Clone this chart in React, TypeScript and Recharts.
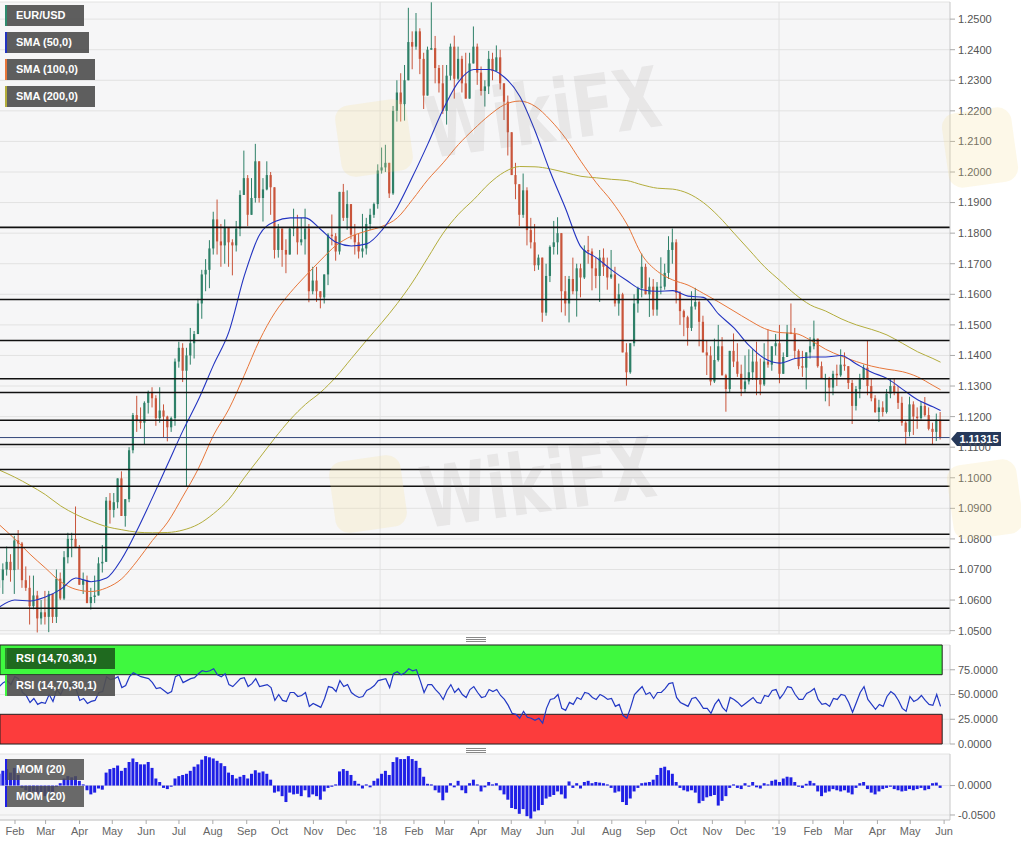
import React from 'react';
import {
  ComposedChart, Bar, Line, XAxis, YAxis, CartesianGrid, ReferenceLine, ReferenceArea,
} from 'recharts';

// ---------- DATA (half-week candles, first week starts Mon 2017-01-16) ----------
const FIRST_MONDAY = -16; // days relative to 2017-02-01
const firstOpen = 1.064;

const highs = [
  1.0680,1.0720, 1.0775,1.0750, 1.0810,1.0829, 1.0790,1.0710, 1.0680,1.0680, 1.0630,1.0600, 1.0630,1.0630, 1.0620,1.0700,
  1.0690,1.0760, 1.0820,1.0820, 1.0906,1.0780, 1.0690,1.0680, 1.0640,1.0680, 1.0740,1.0780, 1.0937,1.0950, 1.0950,1.0998,
  1.1021,1.0900, 1.1100,1.1212, 1.1268,1.1230, 1.1250,1.1285, 1.1296,1.1270, 1.1296,1.1240, 1.1203,1.1200, 1.1390,1.1445,
  1.1440,1.1425, 1.1490,1.1480, 1.1585,1.1680, 1.1715,1.1777, 1.1870,1.1910, 1.1830,1.1845, 1.1810,1.1780, 1.1840,1.1940,
  1.2070,1.1990, 1.1980,1.2092, 1.2000,1.1980, 1.2035,1.2000, 1.1950,1.1830, 1.1800,1.1780, 1.1820,1.1880, 1.1860,1.1850,
  1.1880,1.1830, 1.1690,1.1690, 1.1610,1.1665, 1.1800,1.1861, 1.1800,1.1935, 1.1961,1.1940, 1.1880,1.1830, 1.1800,1.1863,
  1.1850,1.1880, 1.1900,1.2025, 1.2080,1.2089, 1.2030,1.2216, 1.2300,1.2323, 1.2350,1.2537, 1.2460,1.2520, 1.2470,1.2390,
  1.2410,1.2555, 1.2445,1.2350, 1.2350,1.2350, 1.2420,1.2446, 1.2410,1.2380, 1.2390,1.2390, 1.2476,1.2420, 1.2345,1.2300,
  1.2396,1.2390, 1.2414,1.2400, 1.2290,1.2250, 1.2125,1.2030, 1.1950,1.1995, 1.1950,1.1850, 1.1830,1.1730, 1.1720,1.1700,
  1.1760,1.1840, 1.1852,1.1800, 1.1660,1.1660, 1.1720,1.1700, 1.1700,1.1760, 1.1791,1.1750, 1.1720,1.1745, 1.1750,1.1720,
  1.1745,1.1690, 1.1635,1.1605, 1.1440,1.1440, 1.1600,1.1625, 1.1733,1.1700, 1.1655,1.1650, 1.1640,1.1721, 1.1700,1.1790,
  1.1815,1.1780, 1.1610,1.1550, 1.1530,1.1610, 1.1621,1.1580, 1.1530,1.1450, 1.1430,1.1455, 1.1500,1.1460, 1.1340,1.1400,
  1.1472,1.1440, 1.1370,1.1400, 1.1420,1.1420, 1.1445,1.1390, 1.1440,1.1486, 1.1420,1.1470, 1.1500,1.1410, 1.1500,1.1570,
  1.1490,1.1420, 1.1415,1.1410, 1.1460,1.1514, 1.1450,1.1380, 1.1340,1.1330, 1.1350,1.1370, 1.1420,1.1410, 1.1355,1.1320,
  1.1300,1.1340, 1.1370,1.1448, 1.1325,1.1270, 1.1255,1.1250, 1.1290,1.1324, 1.1325,1.1300, 1.1265,1.1185, 1.1265,1.1250,
  1.1230,1.1250, 1.1264,1.1230, 1.1180,1.1210, 1.1215,
];

const lows = [
  1.0585,1.0620, 1.0680,1.0660, 1.0620,1.0700, 1.0640,1.0630, 1.0520,1.0570, 1.0494,1.0520, 1.0520,1.0495, 1.0525,1.0525,
  1.0600,1.0600, 1.0720,1.0740, 1.0770,1.0650, 1.0620,1.0590, 1.0569,1.0590, 1.0640,1.0690, 1.0822,1.0850, 1.0870,1.0900,
  1.0880,1.0840, 1.0920,1.1080, 1.1150,1.1160, 1.1110,1.1210, 1.1230,1.1170, 1.1180,1.1130, 1.1119,1.1150, 1.1170,1.1360,
  1.1313,1.0970, 1.1370,1.1390, 1.1470,1.1520, 1.1610,1.1620, 1.1730,1.1730, 1.1690,1.1700, 1.1690,1.1662, 1.1740,1.1790,
  1.1930,1.1823, 1.1860,1.1900, 1.1900,1.1838, 1.1940,1.1860, 1.1717,1.1720, 1.1690,1.1669, 1.1730,1.1790, 1.1730,1.1760,
  1.1730,1.1574, 1.1600,1.1575, 1.1554,1.1570, 1.1630,1.1760, 1.1710,1.1730, 1.1840,1.1811, 1.1780,1.1730, 1.1717,1.1720,
  1.1730,1.1810, 1.1850,1.1880, 1.1995,1.2000, 1.1915,1.1925, 1.2165,1.2165, 1.2168,1.2300, 1.2336,1.2400, 1.2320,1.2206,
  1.2260,1.2400, 1.2290,1.2260, 1.2190,1.2155, 1.2300,1.2240, 1.2300,1.2260, 1.2240,1.2240, 1.2360,1.2285, 1.2250,1.2214,
  1.2255,1.2300, 1.2330,1.2270, 1.2170,1.2054, 1.1990,1.1911, 1.1823,1.1850, 1.1760,1.1750, 1.1676,1.1680, 1.1510,1.1530,
  1.1640,1.1730, 1.1730,1.1541, 1.1530,1.1508, 1.1600,1.1527, 1.1590,1.1650, 1.1700,1.1613, 1.1620,1.1575, 1.1660,1.1615,
  1.1650,1.1560, 1.1530,1.1410, 1.1301,1.1340, 1.1430,1.1540, 1.1590,1.1600, 1.1526,1.1530, 1.1530,1.1600, 1.1615,1.1650,
  1.1700,1.1570, 1.1500,1.1463, 1.1432,1.1480, 1.1550,1.1430, 1.1410,1.1336, 1.1302,1.1310, 1.1380,1.1335, 1.1216,1.1280,
  1.1362,1.1330, 1.1267,1.1280, 1.1305,1.1320, 1.1270,1.1270, 1.1300,1.1360, 1.1350,1.1400, 1.1309,1.1340, 1.1420,1.1470,
  1.1390,1.1355, 1.1330,1.1289, 1.1390,1.1420, 1.1360,1.1325, 1.1250,1.1234, 1.1270,1.1300, 1.1330,1.1350, 1.1290,1.1176,
  1.1220,1.1260, 1.1320,1.1270, 1.1250,1.1212, 1.1183,1.1200, 1.1210,1.1260, 1.1270,1.1225, 1.1170,1.1110, 1.1135,1.1140,
  1.1160,1.1190, 1.1200,1.1155, 1.1107,1.1120, 1.1125,
];

const closes = [
  1.0665,1.0700, 1.0725,1.0698, 1.0795,1.0785, 1.0665,1.0640, 1.0580,1.0615, 1.0540,1.0560, 1.0545,1.0620, 1.0545,1.0670,
  1.0605,1.0740, 1.0800,1.0800, 1.0770,1.0650, 1.0665,1.0590, 1.0610,1.0615, 1.0720,1.0725, 1.0925,1.0895, 1.0920,1.0998,
  1.0875,1.0930, 1.1090,1.1205, 1.1185,1.1180, 1.1245,1.1280, 1.1260,1.1195, 1.1220,1.1200, 1.1165,1.1195, 1.1380,1.1425,
  1.1350,1.1400, 1.1440,1.1470, 1.1570,1.1665, 1.1680,1.1750, 1.1845,1.1773, 1.1760,1.1820, 1.1770,1.1760, 1.1815,1.1925,
  1.1980,1.1860, 1.1915,1.2035, 1.1915,1.1943, 1.1990,1.1950, 1.1745,1.1815, 1.1745,1.1730, 1.1815,1.1820, 1.1770,1.1780,
  1.1815,1.1610, 1.1645,1.1610, 1.1590,1.1665, 1.1795,1.1790, 1.1740,1.1935, 1.1850,1.1895, 1.1795,1.1770, 1.1740,1.1750,
  1.1830,1.1860, 1.1895,1.2005, 1.2015,1.2030, 1.1930,1.2200, 1.2260,1.2222, 1.2300,1.2425, 1.2410,1.2460, 1.2370,1.2250,
  1.2400,1.2405, 1.2340,1.2290, 1.2200,1.2315, 1.2410,1.2305, 1.2370,1.2290, 1.2240,1.2355, 1.2410,1.2325, 1.2265,1.2280,
  1.2370,1.2330, 1.2375,1.2290, 1.2230,1.2130, 1.1990,1.1960, 1.1860,1.1940, 1.1810,1.1770, 1.1695,1.1720, 1.1540,1.1660,
  1.1755,1.1770, 1.1800,1.1610, 1.1570,1.1650, 1.1610,1.1685, 1.1655,1.1745, 1.1740,1.1685, 1.1660,1.1720, 1.1690,1.1655,
  1.1665,1.1570, 1.1600,1.1410, 1.1345,1.1440, 1.1570,1.1620, 1.1690,1.1600, 1.1625,1.1550, 1.1625,1.1625, 1.1670,1.1745,
  1.1770,1.1605, 1.1545,1.1525, 1.1490,1.1560, 1.1575,1.1510, 1.1410,1.1400, 1.1315,1.1385, 1.1430,1.1335, 1.1290,1.1415,
  1.1380,1.1340, 1.1290,1.1315, 1.1345,1.1380, 1.1320,1.1305, 1.1380,1.1370, 1.1430,1.1440, 1.1340,1.1395, 1.1475,1.1470,
  1.1415,1.1365, 1.1360,1.1410, 1.1430,1.1455, 1.1365,1.1325, 1.1325,1.1295, 1.1340,1.1335, 1.1370,1.1365, 1.1310,1.1235,
  1.1290,1.1325, 1.1360,1.1300, 1.1260,1.1215, 1.1230,1.1215, 1.1275,1.1300, 1.1280,1.1245, 1.1180,1.1150, 1.1240,1.1200,
  1.1195,1.1235, 1.1205,1.1160, 1.1150,1.1190, 1.11315,
];

// SMA read every 4th candle (plus the last candle)
const sma50 = [
  1.0577,1.0600,1.0597,1.0610,1.0635,1.0672,1.0660,1.0672,1.0735,1.0829,1.0935,1.1045,1.1155,1.1255,1.1370,1.1478,
  1.1660,1.1795,1.1838,1.1850,1.1850,1.1812,1.1770,1.1758,1.1765,1.1810,1.1885,1.1985,1.2092,1.2205,1.2295,1.2335,
  1.2335,1.2310,1.2248,1.2135,1.2000,1.1880,1.1755,1.1720,1.1680,1.1645,1.1615,1.1610,1.1612,1.1594,1.1590,1.1535,
  1.1490,1.1432,1.1390,1.1375,1.1390,1.1395,1.1395,1.1400,1.1372,1.1345,1.1325,1.1290,1.1255,1.1232,1.1220,
];
const sma100 = [
  1.0846,1.0800,1.0750,1.0705,1.0660,1.0635,1.0628,1.0640,1.0670,1.0728,1.0795,1.0855,1.0940,1.1030,1.1140,1.1225,
  1.1335,1.1450,1.1540,1.1605,1.1660,1.1712,1.1760,1.1790,1.1807,1.1822,1.1850,1.1910,1.1975,1.2030,1.2090,1.2140,
  1.2185,1.2220,1.2232,1.2215,1.2170,1.2110,1.2035,1.1965,1.1905,1.1830,1.1728,1.1675,1.1647,1.1630,1.1603,1.1575,
  1.1545,1.1515,1.1488,1.1475,1.1472,1.1450,1.1420,1.1398,1.1380,1.1365,1.1355,1.1347,1.1330,1.1302,1.1288,
];
const sma200 = [
  1.1025,1.1002,1.0975,1.0945,1.0908,1.0880,1.0858,1.0840,1.0830,1.0822,1.0820,1.0821,1.0829,1.0848,1.0883,1.0930,
  1.1000,1.1065,1.1130,1.1190,1.1240,1.1280,1.1330,1.1390,1.1450,1.1508,1.1570,1.1640,1.1720,1.1800,1.1862,1.1910,
  1.1962,1.2000,1.2018,1.2017,1.2010,1.1998,1.1986,1.1981,1.1976,1.1972,1.1958,1.1947,1.1944,1.1930,1.1900,1.1855,
  1.1800,1.1745,1.1690,1.1645,1.1600,1.1565,1.1545,1.1520,1.1500,1.1485,1.1467,1.1440,1.1412,1.1390,1.1378,
];

const rsi = [
  58,62,64,60,68,66,52,49,42,46, 40,42,41,50,43,55,50,58,60,59,
  56,44,46,41,43,44,52,53,68,65, 66,68,57,59,68,72,70,68,67,66,
  62,56,57,54,51,53,68,70,62,64, 66,67,71,74,73,74,76,70,68,71,
  60,58,62,66,67,58,61,66,58,59, 60,57,44,50,44,43,52,52,48,49,
  52,38,41,39,37,46,58,57,53,64, 58,60,52,49,47,48,54,56,59,64,
  65,66,57,71,73,70,72,76,74,75, 64,52,60,60,55,51,45,54,60,52,
  56,50,47,55,58,52,47,48,55,53, 55,49,45,39,31,30,26,33,27,26,
  24,26,21,36,45,46,50,36,34,42, 40,47,45,52,51,47,45,50,48,45,
  46,38,40,29,26,37,50,54,58,50, 52,46,52,52,56,61,62,47,42,40,
  38,46,47,42,36,36,31,40,45,37, 33,47,45,42,38,41,44,47,42,41,
  49,48,54,55,46,51,58,57,50,45, 45,51,53,56,45,40,41,38,46,45,
  50,49,42,32,42,52,58,45,40,35, 40,38,48,53,50,44,36,33,48,43,
  45,49,44,40,39,50,38,
];

const mom = [
  0.020,0.025,0.028,0.022,0.030,0.018,-0.004,-0.008,-0.012,-0.010,
  -0.015,-0.012,-0.018,-0.010,-0.012,-0.002,0.004,0.012,0.016,0.014,
  0.016,0.008,0.002,-0.008,-0.015,-0.012,-0.005,-0.007,0.022,0.028,
  0.030,0.034,0.025,0.030,0.040,0.046,0.040,0.036,0.036,0.040,
  0.030,0.012,0.006,-0.004,-0.006,-0.002,0.012,0.016,0.018,0.020,
  0.025,0.032,0.036,0.044,0.050,0.048,0.046,0.042,0.038,0.033,
  0.022,0.018,0.012,0.015,0.018,0.012,0.020,0.026,0.022,0.024,
  0.020,0.010,-0.012,-0.010,-0.018,-0.028,-0.012,-0.015,-0.014,-0.018,
  -0.008,-0.020,-0.015,-0.018,-0.024,-0.010,-0.004,-0.002,0.002,0.024,
  0.028,0.025,0.018,0.008,0.003,-0.005,0.002,-0.003,0.008,0.012,
  0.020,0.025,0.018,0.040,0.048,0.045,0.045,0.050,0.045,0.042,
  0.030,0.015,0.003,0.002,-0.008,-0.012,-0.025,-0.012,0.004,-0.003,
  0.008,-0.008,-0.013,0.004,0.010,0.002,-0.010,-0.003,0.006,0.002,
  0.004,-0.008,-0.015,-0.024,-0.038,-0.040,-0.048,-0.040,-0.052,-0.056,
  -0.044,-0.042,-0.033,-0.022,-0.019,-0.016,-0.010,-0.015,-0.022,0.007,
  -0.004,0.004,-0.005,0.006,0.008,0.004,0.006,0.005,0.004,0.002,
  -0.004,-0.012,-0.010,-0.028,-0.033,-0.022,-0.010,-0.004,0.004,0.005,
  0.006,0.010,0.018,0.030,0.032,0.026,0.020,0.006,-0.004,-0.008,
  -0.010,-0.008,-0.012,-0.030,-0.026,-0.020,-0.018,-0.016,-0.034,-0.026,
  -0.018,-0.004,0.002,-0.004,-0.006,0.004,-0.002,0.006,-0.003,-0.005,
  0.004,0.002,0.008,0.010,0.006,0.012,0.015,0.014,0.006,-0.002,
  -0.004,0.003,0.008,0.004,-0.010,-0.018,-0.012,-0.010,-0.006,-0.008,
  -0.010,-0.008,-0.012,-0.015,-0.004,0.004,0.006,-0.006,-0.012,-0.015,
  -0.010,-0.006,-0.004,-0.002,-0.006,-0.008,-0.010,-0.009,-0.006,-0.008,
  -0.006,-0.004,-0.008,-0.006,0.004,0.005,-0.004,
];

const supportLevels = [1.1819, 1.1583, 1.1449, 1.1324, 1.1279, 1.1188, 1.1109, 1.1027, 1.0972, 1.0815, 1.0772, 1.0573];
const priceTicks = [1.05,1.06,1.07,1.08,1.09,1.10,1.11,1.12,1.13,1.14,1.15,1.16,1.17,1.18,1.19,1.20,1.21,1.22,1.23,1.24,1.25];
const rsiTicks = [0, 25, 50, 75];
const momTicks = [-0.05, 0];
const monthLabels = ["Feb","Mar","Apr","May","Jun","Jul","Aug","Sep","Oct","Nov","Dec","'18",
  "Feb","Mar","Apr","May","Jun","Jul","Aug","Sep","Oct","Nov","Dec","'19","Feb","Mar","Apr","May","Jun"];

// ---------- helpers ----------
const BASE = Date.UTC(2017, 1, 1);
const dayOf = (y: number, m: number, d: number) => (Date.UTC(y, m - 1, d) - BASE) / 86400000;
const monthTicks = monthLabels.map((_, k) => dayOf(2017, 2 + k, 1));
const labelByTick = new Map(monthTicks.map((t, k) => [t, monthLabels[k]]));
const yearLines = [dayOf(2018, 1, 1), dayOf(2019, 1, 1)];

const X_MIN = -13.72;
const X_MAX = 855.4;
const N = closes.length;
const lastClose = closes[N - 1];

const table = closes.map((c, i) => {
  const open = i === 0 ? firstOpen : closes[i - 1];
  const high = Math.max(highs[i], open, c);
  const low = Math.min(lows[i], open, c);
  const x = FIRST_MONDAY + 7 * Math.floor(i / 2) + 1.75 + 3.5 * (i % 2);
  let s = -1;
  if (i % 4 === 0 && i / 4 < sma50.length - 1) s = i / 4;
  if (i === N - 1) s = sma50.length - 1;
  return {
    x, open, high, low, close: c, range: [low, high],
    sma50: s >= 0 ? sma50[s] : null,
    sma100: s >= 0 ? sma100[s] : null,
    sma200: s >= 0 ? sma200[s] : null,
    rsi: rsi[i], mom: mom[i],
  };
});
const lastX = table[N - 1].x;

const UP = '#2e8068';
const DOWN = '#c9553b';

const CandleShape = (props: any) => {
  const { x, y, width, height, payload } = props;
  if (x == null || y == null || !payload) return null;
  const top = Math.min(y, y + height);
  const h = Math.abs(height);
  const { open, close, high, low } = payload;
  const span = high - low;
  const k = span > 0 ? h / span : 0;
  const cx = x + width / 2;
  const yo = top + (high - open) * k;
  const yc = top + (high - close) * k;
  const col = close >= open ? UP : DOWN;
  const bw = 2.2;
  return (
    <g>
      <line x1={cx} x2={cx} y1={top} y2={top + h} stroke={col} strokeWidth={1} />
      <rect x={cx - bw / 2} y={Math.min(yo, yc)} width={bw} height={Math.max(1, Math.abs(yc - yo))} fill={col} />
    </g>
  );
};

const PriceTag = (props: any) => {
  const vb = props.viewBox || {};
  const x0 = (vb.x || 0) + (vb.width || 0) + 1;
  const y0 = (vb.y || 0) + 1.5;
  return (
    <g>
      <polygon
        points={`${x0},${y0} ${x0 + 6},${y0 - 7} ${x0 + 50},${y0 - 7} ${x0 + 50},${y0 + 7} ${x0 + 6},${y0 + 7}`}
        fill="#26395a"
      />
      <text x={x0 + 28} y={y0 + 4} textAnchor="middle" fill="#fff" fontSize={11} fontWeight="bold">
        {lastClose.toFixed(5)}
      </text>
    </g>
  );
};

const tickStyle = { fontSize: 11, fill: '#555' };
const PLOT_BG = '#f6f6f7';
const GRID = '#e2e2e2';

const Box = ({ left, top, width, text, stripe, bg }: any) => (
  <div style={{
    position: 'absolute', left, top, width, height: 21, background: bg || 'rgba(80,80,80,0.92)',
    borderLeft: `2px solid ${stripe}`, color: '#fff', fontSize: 11, fontWeight: 'bold',
    lineHeight: '21px', paddingLeft: 9, boxSizing: 'border-box', whiteSpace: 'nowrap',
  }}>{text}</div>
);

const Handle = ({ top }: any) => (
  <svg style={{ position: 'absolute', left: 465, top, width: 22, height: 6 }} width={22} height={6}>
    <line x1={1} x2={21} y1={0.5} y2={0.5} stroke="#888" />
    <line x1={1} x2={21} y1={2.5} y2={2.5} stroke="#888" />
    <line x1={1} x2={21} y1={4.5} y2={4.5} stroke="#888" />
  </svg>
);

const WM = ({ left, top, size, rot }: any) => (
  <div style={{
    position: 'absolute', left, top, fontSize: size, fontWeight: 'bold', color: 'rgba(110,95,95,0.10)',
    transform: `rotate(${rot}deg) scaleX(0.72)`, transformOrigin: 'left top', pointerEvents: 'none', whiteSpace: 'nowrap',
    fontFamily: "'DejaVu Sans', sans-serif", lineHeight: 1,
  }}>WikiFX</div>
);
const Logo = ({ left, top, w, h }: any) => (
  <div style={{
    position: 'absolute', left, top, width: w, height: h, borderRadius: 14,
    background: 'rgba(246,222,150,0.22)', transform: 'rotate(-8deg)', pointerEvents: 'none',
  }} />
);

export default function App() {
  return (
    <div style={{
      position: 'absolute', left: 0, top: 0, width: 1021, height: 846, background: '#fff',
      fontFamily: "'Liberation Sans', Arial, sans-serif", overflow: 'hidden',
    }}>
      {/* Main price pane */}
      <div style={{ position: 'absolute', left: 0, top: 0 }}>
        <ComposedChart width={1021} height={636} data={table} margin={{ top: 2, right: 0, bottom: 2, left: 0 }}>
          <CartesianGrid fill={PLOT_BG} stroke={GRID} vertical verticalValues={yearLines} />
          <XAxis type="number" dataKey="x" domain={[X_MIN, X_MAX]} allowDataOverflow hide />
          <YAxis orientation="right" width={71} domain={[1.0489, 1.2556]} allowDataOverflow ticks={priceTicks}
            interval={0} tickFormatter={(v: number) => v.toFixed(4)} tick={tickStyle} tickSize={5} tickMargin={3}
            axisLine={{ stroke: '#c8c8c8' }} tickLine={{ stroke: '#aaa' }} />
          <Bar dataKey="range" barSize={3} shape={CandleShape} isAnimationActive={false} />
          <Line dataKey="sma200" stroke="#b3ad3c" strokeWidth={1} dot={false} connectNulls type="monotone" isAnimationActive={false} />
          <Line dataKey="sma100" stroke="#e8763a" strokeWidth={1} dot={false} connectNulls type="monotone" isAnimationActive={false} />
          <Line dataKey="sma50" stroke="#2233c0" strokeWidth={1.1} dot={false} connectNulls type="monotone" isAnimationActive={false} />
          {supportLevels.map((v) => <ReferenceLine key={v} y={v} stroke="#111" strokeWidth={1.6} />)}
          <ReferenceLine y={lastClose} stroke="#34487a" strokeWidth={1} label={(p: any) => <PriceTag {...p} />} />
        </ComposedChart>
      </div>

      <Handle top={637} />

      {/* RSI pane */}
      <div style={{ position: 'absolute', left: 0, top: 640 }}>
        <ComposedChart width={1021} height={110} data={table} margin={{ top: 5, right: 0, bottom: 6, left: 0 }}>
          <CartesianGrid fill={PLOT_BG} stroke={GRID} vertical verticalValues={yearLines} />
          <XAxis type="number" dataKey="x" domain={[X_MIN, X_MAX]} allowDataOverflow hide />
          <YAxis orientation="right" width={71} domain={[0, 100]} ticks={rsiTicks} interval={0}
            tickFormatter={(v: number) => v.toFixed(4)} tick={tickStyle} tickSize={5} tickMargin={3}
            axisLine={{ stroke: '#c8c8c8' }} tickLine={{ stroke: '#aaa' }} />
          <ReferenceArea x1={X_MIN} x2={lastX + 1.5} y1={70} y2={100} fill="#3ff83f" fillOpacity={1} stroke="#222" strokeWidth={1} />
          <ReferenceArea x1={X_MIN} x2={lastX + 1.5} y1={0} y2={30} fill="#fc3c3c" fillOpacity={1} stroke="#222" strokeWidth={1} />
          <Line dataKey="rsi" stroke="#2238c4" strokeWidth={1.2} dot={false} type="linear" isAnimationActive={false} />
        </ComposedChart>
      </div>

      <Handle top={748} />

      {/* MOM pane */}
      <div style={{ position: 'absolute', left: 0, top: 750 }}>
        <ComposedChart width={1021} height={96} data={table} margin={{ top: 4, right: 0, bottom: 0, left: 0 }}>
          <CartesianGrid fill={PLOT_BG} stroke={GRID} vertical verticalValues={yearLines} />
          <XAxis type="number" dataKey="x" domain={[X_MIN, X_MAX]} allowDataOverflow ticks={monthTicks} interval={0}
            tickFormatter={(v: number) => labelByTick.get(v) || ''} tick={{ fontSize: 11, fill: '#666' }}
            height={26} tickSize={4} tickMargin={3} axisLine={{ stroke: '#c8c8c8' }} tickLine={{ stroke: '#aaa' }} />
          <YAxis orientation="right" width={71} domain={[-0.0585, 0.0536]} allowDataOverflow ticks={momTicks} interval={0}
            tickFormatter={(v: number) => v.toFixed(4)} tick={tickStyle} tickSize={5} tickMargin={3}
            axisLine={{ stroke: '#c8c8c8' }} tickLine={{ stroke: '#aaa' }} />
          <Bar dataKey="mom" barSize={3} fill="#1f1fe6" isAnimationActive={false} />
        </ComposedChart>
      </div>

      {/* faint watermarks */}
      <Logo left={338} top={102} w={72} h={72} />
      <Logo left={332} top={458} w={72} h={72} />
      <Logo left={945} top={110} w={70} h={75} />
      <Logo left={950} top={462} w={70} h={75} />
      <WM left={420} top={88} size={84} rot={-8} />
      <WM left={415} top={458} size={84} rot={-8} />

      {/* Legends */}
      <Box left={5} top={5} width={79} text="EUR/USD" stripe="#2e8b6e" />
      <Box left={5} top={32} width={84} text="SMA (50,0)" stripe="#2233c0" />
      <Box left={5} top={59} width={90} text="SMA (100,0)" stripe="#e8763a" />
      <Box left={5} top={86} width={90} text="SMA (200,0)" stripe="#b3ad3c" />
      <Box left={5} top={648} width={110} text="RSI (14,70,30,1)" stripe="#2a8a2a" bg="#1f6a1f" />
      <Box left={5} top={675} width={110} text="RSI (14,70,30,1)" stripe="#3ff83f" />
      <Box left={5} top={759} width={79} text="MOM (20)" stripe="#1f1fe6" bg="rgba(80,80,80,0.85)" />
      <Box left={5} top={786} width={79} text="MOM (20)" stripe="#1f1fe6" bg="rgba(80,80,80,0.85)" />
    </div>
  );
}
